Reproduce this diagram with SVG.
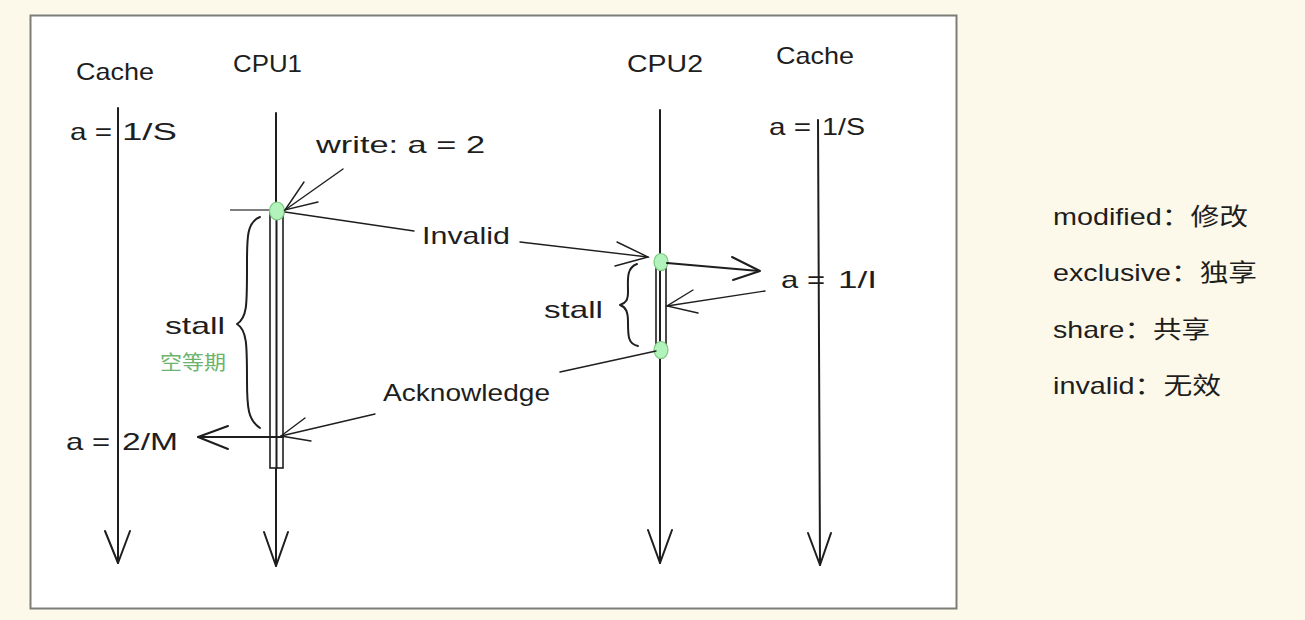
<svg xmlns="http://www.w3.org/2000/svg" width="1305" height="620" viewBox="0 0 1305 620">
<style>
.ln{stroke:#1e1e1e;stroke-width:2;fill:none;stroke-linecap:round;stroke-linejoin:round}
.thin{stroke:#1e1e1e;stroke-width:1.4;fill:none;stroke-linecap:round}
.t{font-family:"Liberation Sans","Noto Sans CJK SC",sans-serif;font-size:24px;fill:#1e1e1e}
.dot{fill:#b2f2bb;stroke:#7cc67f;stroke-width:1.2}
.bar{fill:#fff;stroke:#1e1e1e;stroke-width:1.6}
</style>
<rect x="0" y="0" width="1305" height="620" fill="#fdf9ea"/>
<rect x="30.5" y="15.5" width="926" height="593" fill="#fff" stroke="#7d7d78" stroke-width="2"/>

<g id="cache1">
<text class="t" x="76" y="80" textLength="78" lengthAdjust="spacingAndGlyphs">Cache</text>
<line class="ln" x1="118" y1="108" x2="118" y2="563"/>
<path class="ln" d="M105 531 L118 563 L130 531"/>
<text class="t" x="70" y="140" textLength="42" lengthAdjust="spacingAndGlyphs">a =</text>
<text class="t" x="122" y="140" textLength="55" lengthAdjust="spacingAndGlyphs">1/S</text>
<text class="t" x="66" y="450" textLength="44" lengthAdjust="spacingAndGlyphs">a =</text>
<text class="t" x="122" y="450" textLength="56" lengthAdjust="spacingAndGlyphs">2/M</text>
</g>

<g id="cpu1">
<text class="t" x="233" y="72" textLength="69" lengthAdjust="spacingAndGlyphs">CPU1</text>
<line class="ln" x1="276" y1="113" x2="276" y2="566"/>
<path class="ln" d="M264 532 L276 566 L288 532"/>
<line x1="230" y1="210" x2="270" y2="210" stroke="#555" stroke-width="1.4"/>
<rect class="bar" x="270" y="212" width="13" height="256"/>
<line class="ln" x1="276.5" y1="212" x2="276.5" y2="468" stroke-width="1.6"/>
<ellipse class="dot" cx="277" cy="211" rx="7.5" ry="9"/>
<path class="ln" d="M260 217 C246 222 247 240 247 270 C247 305 247 318 237 324 C247 330 247 345 247 380 C247 408 248 420 260 428"/>
<text class="t" x="165" y="334" textLength="60" lengthAdjust="spacingAndGlyphs">stall</text>
<text x="160" y="370" font-family="'Noto Sans CJK SC',sans-serif" font-size="20" fill="#6cb36e" textLength="66" lengthAdjust="spacingAndGlyphs">空等期</text>
</g>

<g id="cpu2">
<text class="t" x="627" y="72" textLength="76" lengthAdjust="spacingAndGlyphs">CPU2</text>
<line class="ln" x1="660" y1="110" x2="660" y2="563"/>
<path class="ln" d="M648 530 L660 563 L672 530"/>
<rect class="bar" x="656" y="262" width="10" height="88"/>
<line class="ln" x1="660" y1="262" x2="660" y2="350" stroke-width="1.6"/>
<ellipse class="dot" cx="661" cy="262" rx="7" ry="8.5"/>
<ellipse class="dot" cx="661" cy="350" rx="7" ry="8.5"/>
<path class="ln" d="M637 264 C626 268 628 280 628 292 C628 300 626 303 620 305 C626 307 628 312 628 322 C628 336 628 344 638 346"/>
<text class="t" x="544" y="318" textLength="59" lengthAdjust="spacingAndGlyphs">stall</text>
</g>

<g id="cache2">
<text class="t" x="776" y="64" textLength="78" lengthAdjust="spacingAndGlyphs">Cache</text>
<line class="ln" x1="818" y1="120" x2="820" y2="565"/>
<path class="ln" d="M808 533 L820 565 L831 533"/>
<text class="t" x="769" y="135" textLength="42" lengthAdjust="spacingAndGlyphs">a =</text>
<text class="t" x="822" y="135" textLength="43" lengthAdjust="spacingAndGlyphs">1/S</text>
<text class="t" x="781" y="288" textLength="44" lengthAdjust="spacingAndGlyphs">a =</text>
<text class="t" x="838" y="288" textLength="39" lengthAdjust="spacingAndGlyphs">1/I</text>
</g>

<g id="connectors">
<line class="thin" x1="343" y1="169" x2="285" y2="210"/>
<path class="thin" d="M304 182 L285 210 L318 202"/>
<text class="t" x="316" y="153" textLength="169" lengthAdjust="spacingAndGlyphs">write:  a = 2</text>

<line class="thin" x1="285" y1="212" x2="414" y2="231"/>
<line class="thin" x1="520" y1="242" x2="648" y2="257"/>
<path class="thin" d="M617 242 L648 257 L615 266"/>
<text class="t" x="422" y="244" textLength="88" lengthAdjust="spacingAndGlyphs">Invalid</text>

<line class="ln" x1="667" y1="263" x2="759" y2="271"/>
<path class="ln" d="M732 257 L760 271 L733 280"/>

<line class="thin" x1="765" y1="291" x2="667" y2="306"/>
<path class="thin" d="M693 290 L667 306 L698 313"/>

<line class="thin" x1="656" y1="351" x2="560" y2="372"/>
<line class="thin" x1="375" y1="414" x2="281" y2="436"/>
<path class="thin" d="M305 418 L281 436 L311 441"/>
<text class="t" x="383" y="401" textLength="167" lengthAdjust="spacingAndGlyphs">Acknowledge</text>

<line class="ln" x1="283" y1="437" x2="198" y2="437" stroke-width="1.8"/>
<path class="ln" d="M228 426 L198 437 L228 449" stroke-width="1.6"/>
</g>

<g id="legend">
<text class="t" x="1053" y="225" textLength="195" lengthAdjust="spacingAndGlyphs">modified：修改</text>
<text class="t" x="1053" y="281" textLength="204" lengthAdjust="spacingAndGlyphs">exclusive：独享</text>
<text class="t" x="1053" y="338" textLength="157" lengthAdjust="spacingAndGlyphs">share：共享</text>
<text class="t" x="1053" y="394" textLength="168" lengthAdjust="spacingAndGlyphs">invalid：无效</text>
</g>
</svg>
